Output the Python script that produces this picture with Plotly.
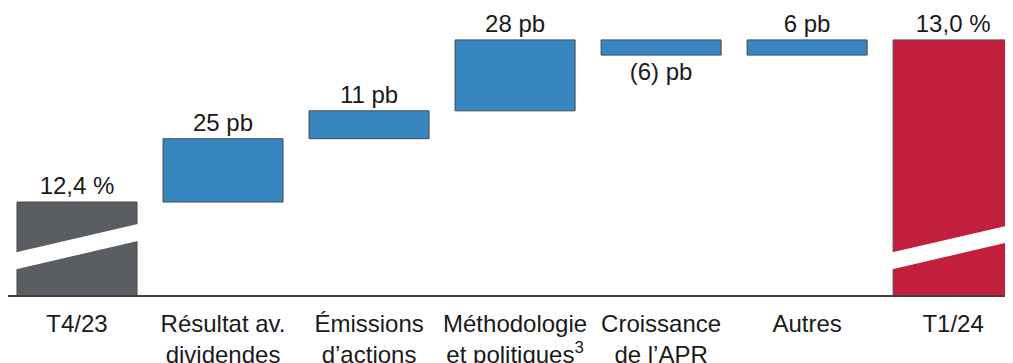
import plotly.graph_objects as go

# ---- data ----
categories = ["T4/23", "Résultat av.<br>dividendes", "Émissions<br>d’actions",
              "Méthodologie<br>et politiques<sup>3</sup>", "Croissance<br>de l’APR",
              "Autres", "T1/24"]
start_ratio_bp = 1240          # 12,4 %
change_bp = [25, 11, 28, -6, 6]
end_label = "13,0 %"
start_label = "12,4 %"
axis_floor_bp = 1203.3         # broken-axis baseline
axis_top_bp = 1316.6

colors_total_start = "#5A5D61"
color_change = "#3886C0"
color_total_end = "#C21F3D"

# ---- derived ----
x_idx = list(range(len(categories)))
bases, heights, labels, colors = [], [], [], []
bases.append(0); heights.append(start_ratio_bp); labels.append(start_label); colors.append(colors_total_start)
run = start_ratio_bp
for c in change_bp:
    bases.append(run); heights.append(c)
    labels.append(f"{c} pb" if c >= 0 else f"({-c}) pb")
    colors.append(color_change)
    run += c
bases.append(0); heights.append(run); labels.append(end_label); colors.append(color_total_end)

bar_w = 0.822
fig = go.Figure()
fig.add_trace(go.Bar(
    x=x_idx, y=heights, base=bases, width=bar_w,
    marker=dict(color=colors, line=dict(color="#4a4a4a", width=1)),
    text=labels, textposition="outside", cliponaxis=False, constraintext="none",
    textfont=dict(family="Liberation Sans, Arial", size=24, color="#1a1a1a"),
    hoverinfo="skip",
))

# white diagonal break stripes on the total bars
half = bar_w / 2 + 0.02
lo_left, lo_right, thick = 10.0, 21.5, 6.7
for i in (0, len(categories) - 1):
    x0, x1 = i - half, i + half
    y0 = axis_floor_bp + lo_left
    y1 = axis_floor_bp + lo_right
    path = (f"M {x0},{y0} L {x1},{y1} L {x1},{y1 + thick} "
            f"L {x0},{y0 + thick} Z")
    fig.add_shape(type="path", path=path, xref="x", yref="y",
                  fillcolor="white", line=dict(width=0), layer="above")

fig.update_layout(
    width=1005, height=355,
    margin=dict(l=0, r=0, t=0, b=68, autoexpand=False),
    paper_bgcolor="white", plot_bgcolor="white",
    showlegend=False,
    font=dict(family="Liberation Sans, Arial", color="#1a1a1a"),
    xaxis=dict(range=[-0.4726, 6.41], tickvals=x_idx, ticktext=categories,
               tickfont=dict(size=24, color="#1a1a1a"),
               showgrid=False, zeroline=False, showline=True,
               linecolor="#404040", linewidth=2, ticks="",
               ticklabelstandoff=6, automargin=False),
    yaxis=dict(range=[axis_floor_bp, axis_top_bp], visible=False, automargin=False),
)

fig.write_html("out.html")
